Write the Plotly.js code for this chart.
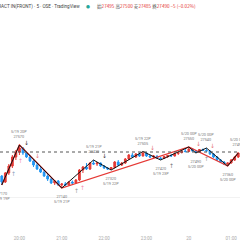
<!DOCTYPE html>
<html><head><meta charset="utf-8">
<script src="https://cdn.plot.ly/plotly-3.0.1.min.js"></script>
<style>html,body{margin:0;padding:0;background:#fff}#c{width:240px;height:240px}</style>
</head><body><div id="c"></div>
<script>
// Candle data (5-minute bars), index-based x
const openP  = [27260,27200,27290,27360,27450,27500,27540,27490,27450,27410,27370,27330,27300,27260,27230,27190,27210,27170,27180,27170,27200,27190,27220,27320,27350,27330,27390,27380,27390,27360,27340,27330,27345,27400,27370,27390,27430,27470,27450,27480,27460,27490,27460,27450,27460,27440,27435,27455,27465,27460,27485,27495,27510,27505,27530,27510,27500,27525,27515,27510,27480,27450,27420,27400,27380,27390,27420,27450];
const highP  = [27270,27300,27380,27470,27520,27570,27550,27500,27470,27420,27390,27350,27320,27280,27240,27220,27220,27190,27200,27210,27215,27230,27330,27360,27390,27400,27420,27400,27395,27370,27350,27350,27410,27420,27400,27440,27480,27490,27490,27495,27505,27500,27475,27470,27465,27450,27460,27470,27480,27490,27500,27520,27530,27550,27540,27520,27530,27535,27540,27515,27490,27460,27430,27410,27395,27430,27460,27495];
const lowP   = [27170,27190,27270,27340,27420,27470,27470,27440,27400,27350,27320,27290,27250,27210,27180,27170,27160,27140,27160,27165,27180,27185,27210,27290,27320,27320,27370,27360,27350,27330,27320,27320,27335,27360,27360,27380,27420,27440,27440,27450,27455,27450,27440,27430,27430,27420,27430,27440,27450,27455,27470,27485,27495,27500,27505,27490,27495,27510,27505,27470,27440,27410,27390,27370,27360,27385,27410,27440];
const closeP = [27200,27290,27360,27450,27500,27540,27490,27450,27410,27370,27330,27300,27260,27230,27190,27210,27170,27180,27170,27200,27190,27220,27320,27350,27330,27390,27380,27390,27360,27340,27330,27345,27400,27370,27390,27430,27470,27450,27480,27460,27490,27460,27450,27460,27440,27435,27455,27465,27460,27485,27495,27510,27505,27530,27510,27500,27525,27515,27510,27480,27450,27420,27400,27380,27390,27420,27450,27490];

// ZigZag pivots (minor, black) and major (red)
const zzIdx   = [0,5,17,26,31,40,45,53,55,58,64,67];
const zzPrice = [27170,27570,27140,27420,27320,27505,27420,27550,27490,27540,27360,27490];
const zzTime  = ["5/19 19P","5/19 20P","5/19 21P","5/19 21P","5/19 22P","5/19 22P","5/19 23P","5/20 00P","5/20 00P","5/20 00P","5/20 00P","5/20 01P"];
const majIdx   = [0,5,17,53,64,67];
const majPrice = [27170,27570,27140,27550,27360,27490];

// Signal arrows
const arrIdx   = [3.2,5.2,7.1,10,21.3,23,29.2,42.8,48.2,55.7,58.1,59.8];
const arrPrice = [27290,27420,27600,27470,27120,27150,27470,27550,27370,27590,27440,27570];
const arrText  = ["↑","↑","↓","↓","↑","↑","↓","↓","↑","↓","↑","↓"];
const arrColor = ["#8fa3c0","#f48fb1","#333333","#e57373","#999999","#f48fb1","#333333","#e57373","#777777","#e57373","#999999","#e57373"];

// X tick labels
const tickIdx  = [5,17,29,41,53,65];
const tickText = ["20:00","21:00","22:00","23:00","20","01:00"];

const refLevel = 27500;

const header = "NIKKEI 225 MINI CONTRACT IN(FRONT) · 5 · OSE · TradingView";
const ohlcText = '<span style="color:#555">始</span>27495 <span style="color:#555">高</span>27500 <span style="color:#555">安</span>27485 <span style="color:#555">終</span>27490 −5 (−0.02%)';

const idx = openP.map((_, i) => i);

const traces = [
  {type:'scatter', mode:'lines', x:majIdx, y:majPrice, line:{color:'#e53935', width:1.3}, hoverinfo:'skip'},
  {type:'candlestick', x:idx, open:openP, high:highP, low:lowP, close:closeP,
   increasing:{line:{color:'#e53935', width:1}, fillcolor:'#e53935'},
   decreasing:{line:{color:'#2196f3', width:1}, fillcolor:'#2196f3'},
   whiskerwidth:0},
  {type:'scatter', mode:'lines', x:zzIdx, y:zzPrice, line:{color:'#111111', width:1}, hoverinfo:'skip'}
];

const annotations = [];
zzIdx.forEach((xi, k) => {
  const isHigh = k === 0 ? false : zzPrice[k] > zzPrice[k-1];
  const t = isHigh ? zzTime[k] + '<br>' + zzPrice[k] : zzPrice[k] + '<br>' + zzTime[k];
  annotations.push({x:xi, y:zzPrice[k], xref:'x', yref:'y', text:t, showarrow:false,
    yanchor: isHigh ? 'bottom' : 'top', yshift: isHigh ? 4 : -4,
    font:{size:3.8, color:'#777', family:'Roboto'}});
});
arrIdx.forEach((xi, k) => {
  annotations.push({x:xi, y:arrPrice[k], xref:'x', yref:'y', text:arrText[k], showarrow:false,
    font:{size:6, color:arrColor[k], family:'DejaVu Sans'}});
});
annotations.push({xref:'paper', yref:'paper', x:82/240, y:1, yshift:8, xanchor:'right', yanchor:'middle',
  text:header, showarrow:false, font:{size:4.6, color:'#444', family:'Roboto'}});
annotations.push({xref:'paper', yref:'paper', x:88/240, y:1, yshift:8, xanchor:'center', yanchor:'middle',
  text:'●', showarrow:false, font:{size:4.5, color:'#26a69a', family:'DejaVu Sans'}});
annotations.push({xref:'paper', yref:'paper', x:95/240, y:1, yshift:8, xanchor:'left', yanchor:'middle',
  text:ohlcText, showarrow:false, font:{size:4.6, color:'#e53935', family:'Noto Sans CJK JP'}});

const layout = {
  width:240, height:240,
  margin:{l:0, r:0, t:14, b:6},
  paper_bgcolor:'#ffffff', plot_bgcolor:'#ffffff',
  showlegend:false,
  xaxis:{type:'linear', range:[-0.5, 67.5], rangeslider:{visible:false},
    tickvals:tickIdx, ticktext:tickText, showgrid:false, zeroline:false,
    ticks:'', tickfont:{size:4.5, color:'#aaa', family:'Roboto'}, showline:false},
  yaxis:{range:[26680, 28880], showticklabels:false, tickvals:[27050],
    gridcolor:'#f2f2f2', gridwidth:1, zeroline:false, showline:false},
  shapes:[{type:'line', xref:'paper', x0:0, x1:1, yref:'y', y0:refLevel, y1:refLevel,
    line:{color:'#555', width:1, dash:'dot'}}],
  annotations:annotations
};

Plotly.newPlot('c', traces, layout, {staticPlot:true, displayModeBar:false});
</script>
</body></html>
